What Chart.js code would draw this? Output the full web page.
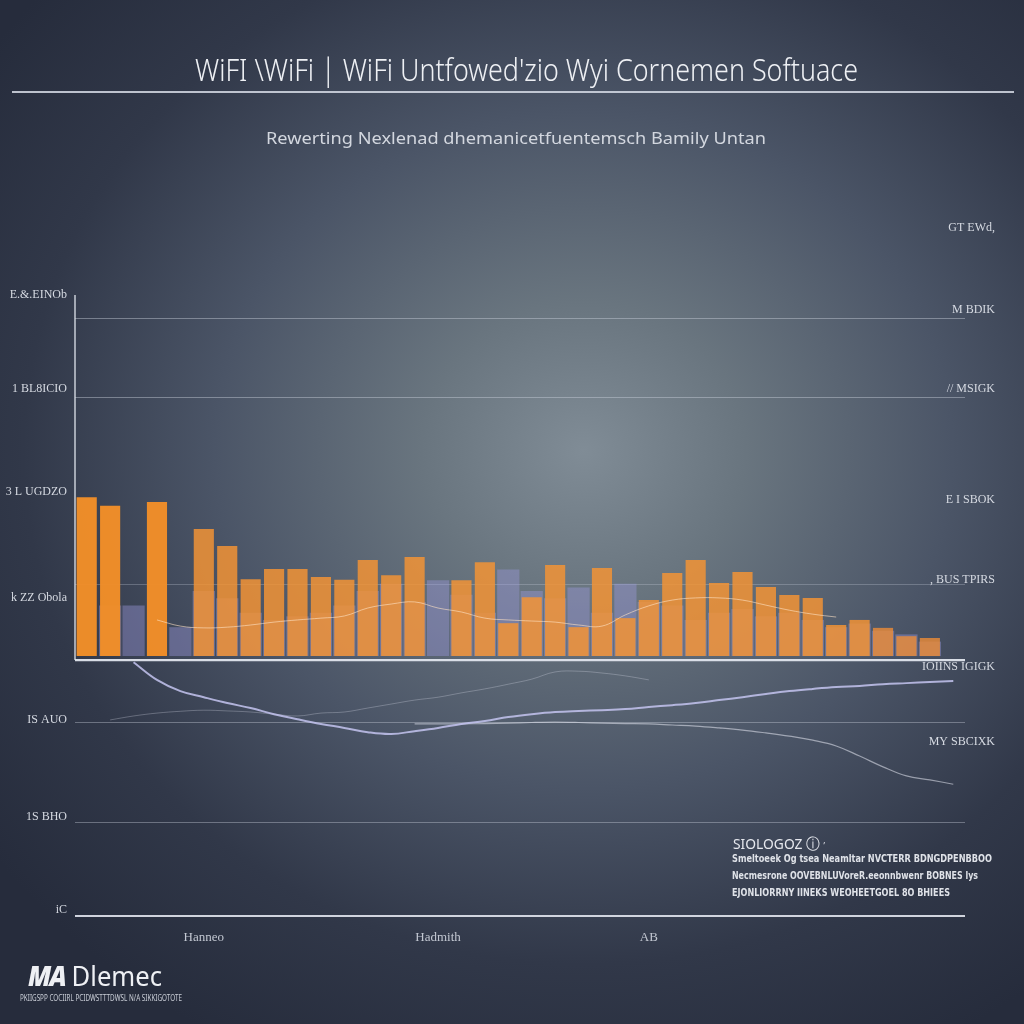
<!DOCTYPE html>
<html>
<head>
<meta charset="utf-8">
<script src="https://cdn.jsdelivr.net/npm/chart.js@4.4.1/dist/chart.umd.min.js"></script>
<style>
html,body{margin:0;padding:0;width:1024px;height:1024px;overflow:hidden;}
body{position:relative;background:radial-gradient(ellipse 72% 66% at 57% 44%, #808c96 0%, #69757f 22%, #4b5567 50%, #313849 76%, #262c3c 100%);font-family:"Noto Sans",sans-serif;}
#chart{position:absolute;left:0;top:0;}
.t{position:absolute;white-space:nowrap;transform-origin:0 0;}
#title{left:195px;top:51px;font-size:31px;line-height:36px;color:#eef0f4;font-weight:300;}
#rule{position:absolute;left:12px;top:91px;width:1002px;height:2px;background:rgba(215,220,230,0.85);}
#subtitle{left:266px;top:127px;font-size:17px;line-height:22px;color:#d3d7df;}
#noteHead{left:733px;top:834px;font-size:15px;line-height:18px;color:#e6e8ee;}
.noteLine{font-size:11px;line-height:13px;color:#dfe2e8;font-weight:bold;font-family:"DejaVu Sans Condensed","DejaVu Sans",sans-serif;}
#logo{left:28px;top:958px;font-size:28px;line-height:34px;color:#eef0f4;}
#logo b{font-style:italic;font-weight:900;letter-spacing:-2px;}
#logoSub{left:20px;top:993px;font-size:8px;line-height:10px;color:#c9cdd6;}
</style>
</head>
<body>
<canvas id="chart" width="1024" height="1024"></canvas>
<div id="title" class="t" data-w="663">WiFI \WiFi | WiFi Untfowed'zio Wyi Cornemen Softuace</div>
<div id="rule"></div>
<div id="subtitle" class="t" data-w="500">Rewerting Nexlenad dhemanicetfuentemsch Bamily Untan</div>
<div id="noteHead" class="t" data-w="92">SIOLOGOZ &#9432; <span style="font-size:9px">&#8217;</span></div>
<div class="t noteLine" style="left:732px;top:852px" data-w="260">Smeltoeek Og tsea Neamltar NVCTERR BDNGDPENBBOO</div>
<div class="t noteLine" style="left:732px;top:869px" data-w="246">Necmesrone OOVEBNLUVoreR.eeonnbwenr BOBNES lys</div>
<div class="t noteLine" style="left:732px;top:886px" data-w="218">EJONLIORRNY IINEKS WEOHEETGOEL 8O BHIEES</div>
<div id="logo" class="t" data-w="134"><b>MA</b> Dlemec</div>
<div id="logoSub" class="t" data-w="162">PKIIGSPP COCIIRL PCIDWSTTTDWSL N/A SIKKIGOTOTE</div>
<script>
// ---- data ----
const categories = ['', '', '', '', '', 'Hanneo', '', '', '', '', '', '', '', '', '', 'Hadmith', '', '', '', '',
  '', '', '', '', 'AB', '', '', '', '', '', '', '', '', '', '', '', '', ''];
const orangeValues = [44.0, 41.6, 0, 42.7, 0, 35.2, 30.5, 21.3, 24.1, 24.1, 21.9, 21.1, 26.6, 22.4, 27.4, 0, 21.0, 26.0, 9.1,
  16.3, 25.2, 8.0, 24.4, 10.5, 15.5, 23.0, 26.6, 20.2, 23.3, 19.1, 16.9, 16.1, 8.6, 10.0, 7.8, 5.5, 5.0, 0];
const lavenderValues = [0, 14.0, 14.0, 0, 8.0, 18.0, 16.0, 12.0, 10.0, 11.0, 12.0, 14.0, 18.0, 20.0, 15.0, 21.0, 17.0, 12.0,
  24.0, 18.0, 16.0, 19.0, 12.0, 20.0, 15.0, 14.0, 10.0, 12.0, 13.0, 11.0, 12.0, 10.0, 8.0, 9.0, 7.0, 6.0, 4.0, 0];
const innerLine = [null, null, null, 10.0, 8.3, 7.8, 8.0, 8.6, 9.4, 10.0, 10.5, 11.1, 13.3, 14.4, 15.0, 13.3, 12.2, 10.5, 10.0,
  9.7, 9.4, 8.6, 8.3, 11.4, 13.9, 15.5, 16.1, 16.1, 15.5, 14.1, 12.7, 11.6, 10.8, null, null, null, null, null];
const trendA = [null, null, -1.7, -6.6, -9.7, -11.4, -13.0, -14.4, -16.1, -17.5, -18.8, -19.9, -21.1, -21.6, -20.8, -19.9,
  -18.8, -18.0, -16.9, -16.1, -15.5, -15.2, -15.0, -14.7, -14.1, -13.6, -13.0, -12.2, -11.4, -10.5, -9.7, -9.1, -8.6, -8.3,
  -7.8, -7.5, -7.2, -6.9];
const trendB = [null, null, null, null, null, null, null, null, null, null, null, null, null, null, -18.8, -18.8, -18.8, -18.7,
  -18.6, -18.4, -18.3, -18.4, -18.6, -18.7, -18.8, -19.1, -19.4, -19.9, -20.5, -21.3, -22.2, -23.3, -24.9, -27.7, -30.7,
  -33.2, -34.3, -35.5];
const trendC = [null, -17.7, -16.6, -15.8, -15.3, -15.0, -15.2, -15.5, -16.1, -16.6, -15.8, -15.5, -14.4, -13.3, -12.2, -11.4,
  -10.2, -9.1, -7.8, -6.4, -4.4, -4.2, -4.7, -5.5, -6.6, null, null, null, null, null, null, null, null, null, null, null, null, null];
const yMin = -72, yMax = 100;
const leftTickValues = [100, 74.0, 45.4, 16.1, -17.7, -44.6, -70.4];
const leftTickLabels = ['E.&.EINOb', '1 BL8ICIO', '3 L UGDZO', 'k ZZ Obola', 'IS AUO', '1S BHO', 'iC'];
const rightTickValues = [118.6, 95.8, 74.0, 43.2, 21.1, -3.0, -23.8];
const rightTickLabels = ['GT EWd,', 'M BDIK', '// MSIGK', 'E I SBOK', ', BUS TPIRS', 'IOIINS IGIGK', 'MY SBCIXK'];
const gridValues = [93.6, 71.5, 19.7, -1.1, -18.3, -46.0, -72];
const axisLineIndex = 3;

// ---- styles ----
const gridColors = ['rgba(200,206,218,0.45)', 'rgba(200,206,218,0.45)', 'rgba(200,206,218,0.3)', 'rgba(226,230,238,0.95)',
  'rgba(200,206,218,0.4)', 'rgba(200,206,218,0.4)', 'rgba(226,230,238,0.9)'];
const gridWidths = [1, 1, 1, 2.2, 1, 1, 2];

const axisPlugin = {
  id: 'axisLine',
  beforeDatasetsDraw(chart) {
    const ctx = chart.ctx, ys = chart.scales.yGrid, a = chart.chartArea;
    ctx.save();
    ctx.strokeStyle = 'rgba(226,230,238,0.85)';
    ctx.lineWidth = 1.5;
    ctx.beginPath();
    ctx.moveTo(a.left, a.top);
    ctx.lineTo(a.left, ys.getPixelForValue(gridValues[axisLineIndex]));
    ctx.stroke();
    ctx.restore();
  }
};

new Chart(document.getElementById('chart'), {
  data: {
    labels: categories,
    datasets: [
      {type: 'line', data: trendA, borderColor: 'rgba(196,196,240,0.85)', borderWidth: 2, pointRadius: 0, tension: 0.4, spanGaps: true, order: 0, yAxisID: 'y'},
      {type: 'line', data: trendB, borderColor: 'rgba(232,234,244,0.55)', borderWidth: 1.2, pointRadius: 0, tension: 0.4, spanGaps: true, order: 0, yAxisID: 'y'},
      {type: 'line', data: trendC, borderColor: 'rgba(220,222,236,0.3)', borderWidth: 1, pointRadius: 0, tension: 0.4, spanGaps: true, order: 0, yAxisID: 'y'},
      {type: 'line', data: innerLine, borderColor: 'rgba(255,226,196,0.6)', borderWidth: 1, pointRadius: 0, tension: 0.4, spanGaps: true, order: 0, yAxisID: 'y'},
      {type: 'bar', data: orangeValues, grouped: false, order: 1, yAxisID: 'y',
        backgroundColor: c => c.dataIndex < 4 ? 'rgba(242,142,40,0.97)' : (c.dataIndex > 33 ? 'rgba(238,140,55,0.8)' : 'rgba(244,148,52,0.84)'),
        categoryPercentage: 1, barPercentage: 0.86},
      {type: 'bar', data: lavenderValues, grouped: false, order: 2, yAxisID: 'y',
        backgroundColor: 'rgba(155,152,220,0.42)', categoryPercentage: 1, barPercentage: 0.95}
    ]
  },
  options: {
    responsive: false,
    animation: false,
    layout: {padding: {top: 295, bottom: 78, left: 0, right: 0}},
    plugins: {legend: {display: false}, tooltip: {enabled: false}},
    scales: {
      x: {
        type: 'category',
        grid: {display: false}, border: {display: false},
        afterFit: s => { s.height = 30; },
        ticks: {autoSkip: false, maxRotation: 0, padding: 6, color: '#c3c8d2',
          font: {family: '"Liberation Serif",serif', size: 13},
          callback: (v, i) => categories[i]}
      },
      y: {
        position: 'left', min: yMin, max: yMax,
        grid: {display: false}, border: {display: false},
        afterFit: s => { s.width = 75; },
        afterBuildTicks: s => { s.ticks = leftTickValues.map(v => ({value: v})); },
        ticks: {autoSkip: false, padding: 0, color: '#d6dae2', font: {family: '"Liberation Serif",serif', size: 12},
          callback: (v, i) => leftTickLabels[i]}
      },
      yGrid: {
        position: 'left', min: yMin, max: yMax,
        border: {display: false},
        afterFit: s => { s.width = 0; },
        afterBuildTicks: s => { s.ticks = gridValues.map(v => ({value: v})); },
        ticks: {display: false},
        grid: {drawTicks: false, color: c => gridColors[c.index], lineWidth: c => gridWidths[c.index]}
      },
      y2: {
        position: 'right', min: yMin, max: yMax,
        grid: {display: false}, border: {display: false},
        afterFit: s => { s.width = 59; },
        afterBuildTicks: s => { s.ticks = rightTickValues.map(v => ({value: v})); },
        ticks: {autoSkip: false, mirror: true, padding: 30, color: '#d6dae2', font: {family: '"Liberation Serif",serif', size: 12},
          callback: (v, i) => rightTickLabels[i]}
      }
    }
  },
  plugins: [axisPlugin]
});

// fit text widths
document.querySelectorAll('.t').forEach(el => {
  const w = parseFloat(el.dataset.w);
  const r = el.getBoundingClientRect().width;
  if (w && r) el.style.transform = 'scaleX(' + (w / r) + ')';
});
</script>
</body>
</html>
